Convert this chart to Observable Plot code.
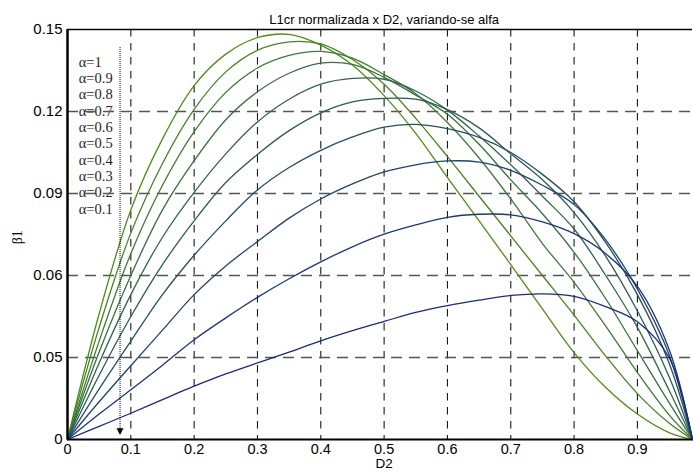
<!DOCTYPE html>
<html>
<head>
<meta charset="utf-8">
<script src="https://cdn.jsdelivr.net/npm/d3@7"></script>
<script src="https://cdn.jsdelivr.net/npm/@observablehq/plot@0.6"></script>
<style>
  html, body { margin: 0; padding: 0; background: #fff; }
  #chart svg { display: block; }
</style>
</head>
<body>
<div id="chart"></div>
<script>
// Normalized L1cr (β1) as a function of D2, one curve per alpha
const d2 = [0, 0.05, 0.1, 0.15, 0.2, 0.25, 0.3, 0.35, 0.4, 0.45, 0.5, 0.55, 0.6, 0.65, 0.7, 0.75, 0.8, 0.85, 0.9, 0.95, 0.987];

const alphaLabels = ["α=1", "α=0.9", "α=0.8", "α=0.7", "α=0.6", "α=0.5", "α=0.4", "α=0.3", "α=0.2", "α=0.1"];

const betaA10 = [0, 0.046, 0.084, 0.110, 0.1295, 0.141, 0.147, 0.1482, 0.1443, 0.137, 0.1258, 0.112, 0.0958, 0.080, 0.064, 0.0478, 0.0318, 0.019, 0.0093, 0.0025, 0];
const betaA09 = [0, 0.041, 0.0755, 0.101, 0.1208, 0.1345, 0.1424, 0.1455, 0.1447, 0.139, 0.130, 0.1175, 0.1035, 0.089, 0.0745, 0.060, 0.0455, 0.0305, 0.0168, 0.006, 0];
const betaA08 = [0, 0.036, 0.068, 0.093, 0.1126, 0.127, 0.1359, 0.1405, 0.142, 0.1395, 0.1335, 0.1265, 0.116, 0.103, 0.088, 0.0717, 0.0575, 0.0415, 0.0245, 0.009, 0];
const betaA07 = [0, 0.032, 0.060, 0.084, 0.102, 0.117, 0.1272, 0.134, 0.1377, 0.1372, 0.1325, 0.126, 0.119, 0.108, 0.095, 0.0826, 0.0685, 0.0515, 0.0325, 0.0135, 0];
const betaA06 = [0, 0.028, 0.053, 0.074, 0.0904, 0.1045, 0.1162, 0.1245, 0.130, 0.1321, 0.1318, 0.1275, 0.1205, 0.111, 0.1005, 0.089, 0.077, 0.060, 0.041, 0.018, 0];
const betaA05 = [0, 0.0235, 0.045, 0.064, 0.080, 0.094, 0.1043, 0.113, 0.1195, 0.1235, 0.1248, 0.1245, 0.1207, 0.114, 0.1045, 0.095, 0.083, 0.067, 0.047, 0.023, 0];
const betaA04 = [0, 0.0185, 0.036, 0.053, 0.0674, 0.080, 0.0913, 0.0995, 0.1058, 0.1107, 0.1143, 0.1153, 0.1137, 0.1105, 0.105, 0.097, 0.087, 0.072, 0.053, 0.028, 0];
const betaA03 = [0, 0.0138, 0.027, 0.040, 0.053, 0.0635, 0.0724, 0.081, 0.088, 0.0935, 0.0979, 0.1005, 0.1019, 0.1015, 0.0985, 0.093, 0.086, 0.073, 0.055, 0.031, 0];
const betaA02 = [0, 0.0093, 0.0182, 0.0272, 0.0365, 0.0445, 0.052, 0.0588, 0.065, 0.0705, 0.0751, 0.0785, 0.0813, 0.0824, 0.0822, 0.0796, 0.0753, 0.068, 0.056, 0.033, 0];
const betaA01 = [0, 0.0048, 0.0096, 0.0146, 0.0195, 0.024, 0.028, 0.032, 0.0361, 0.0398, 0.0432, 0.0465, 0.049, 0.051, 0.0527, 0.0533, 0.0524, 0.0486, 0.0431, 0.030, 0];

const xTicks = [0, 0.1, 0.2, 0.3, 0.4, 0.5, 0.6, 0.7, 0.8, 0.9];
const yTicks = [0, 0.03, 0.06, 0.09, 0.12, 0.15];
const yTickLabels = ["0", "0.05", "0.06", "0.09", "0.12", "0.15"];

// one colour per alpha, green (α=1) to navy (α=0.1)
const curveColors = ["#4f8e14", "#468424", "#3f7a34", "#387040", "#31664b", "#2c5b56", "#274f61", "#22436c", "#1e3677", "#1a2a82"];

const series = [betaA10, betaA09, betaA08, betaA07, betaA06, betaA05, betaA04, betaA03, betaA02, betaA01];
const rows = series.flatMap((vals, k) => vals.map((b, i) => ({alpha: alphaLabels[k], d2: d2[i], beta: b})));

// vertical layout of the alpha list in the upper-left corner
const legendRows = alphaLabels.map((label, i) => ({label, y: 0.15 - (32.7 + 16.3 * i) * 0.15 / 410}));

// dotted arrow showing decreasing alpha
const arrowX = 0.083, arrowTop = 0.1435, arrowBottom = 0.004, arrowTip = 0.0031;

const sans = "'Liberation Sans', Arial, Helvetica, sans-serif";
const serif = "'Liberation Serif', 'Times New Roman', serif";

const chart = Plot.plot({
  width: 693,
  height: 473,
  marginLeft: 67,
  marginRight: 1,
  marginTop: 29,
  marginBottom: 34,
  style: {fontFamily: sans, background: "white", color: "black"},
  x: {domain: [0, 0.987]},
  y: {domain: [0, 0.15]},
  color: {domain: alphaLabels, range: curveColors},
  marks: [
    Plot.text(legendRows, {x: 0.0178, y: "y", text: "label", textAnchor: "start", fontFamily: serif, fontSize: 14.5, fill: "#262626"}),
    Plot.ruleX(xTicks.slice(1), {stroke: "#1a1a1a", strokeWidth: 1.1, strokeDasharray: "7.5,6.5"}),
    Plot.ruleY([0.03, 0.06, 0.09, 0.12], {stroke: "#555", strokeWidth: 1.3, strokeDasharray: "11,7"}),
    Plot.line(rows, {x: "d2", y: "beta", z: "alpha", stroke: "alpha", strokeWidth: 1.3, curve: "catmull-rom"}),
    Plot.ruleX([arrowX], {y1: arrowBottom, y2: arrowTop, stroke: "black", strokeWidth: 1, strokeDasharray: "1,1"}),
    Plot.text(["▼"], {x: arrowX, y: arrowTip, fontSize: 9, fill: "black", fontFamily: "DejaVu Sans"}),
    Plot.ruleY([0], {stroke: "black", strokeWidth: 2}),
    Plot.ruleY([0.15], {stroke: "black", strokeWidth: 1.5}),
    Plot.ruleX([0], {stroke: "black", strokeWidth: 2.5}),
    Plot.axisX({ticks: xTicks, tickSize: 0, tickPadding: 4, fontSize: 14.5, label: null, tickFormat: d => String(d)}),
    Plot.axisY({ticks: yTicks, tickSize: 0, tickPadding: 5, fontSize: 15, label: null, tickFormat: d => yTickLabels[yTicks.indexOf(d)]}),
    Plot.text(["L1cr normalizada x D2, variando-se alfa"], {x: 0.5, frameAnchor: "top", dy: -15, fontSize: 13}),
    Plot.text(["D2"], {x: 0.5, frameAnchor: "bottom", dy: 28, fontSize: 13.5}),
    Plot.text(["β1"], {x: -0.079, y: 0.074, rotate: -90, fontFamily: serif, fontSize: 14})
  ]
});

document.getElementById("chart").appendChild(chart);
</script>
</body>
</html>
